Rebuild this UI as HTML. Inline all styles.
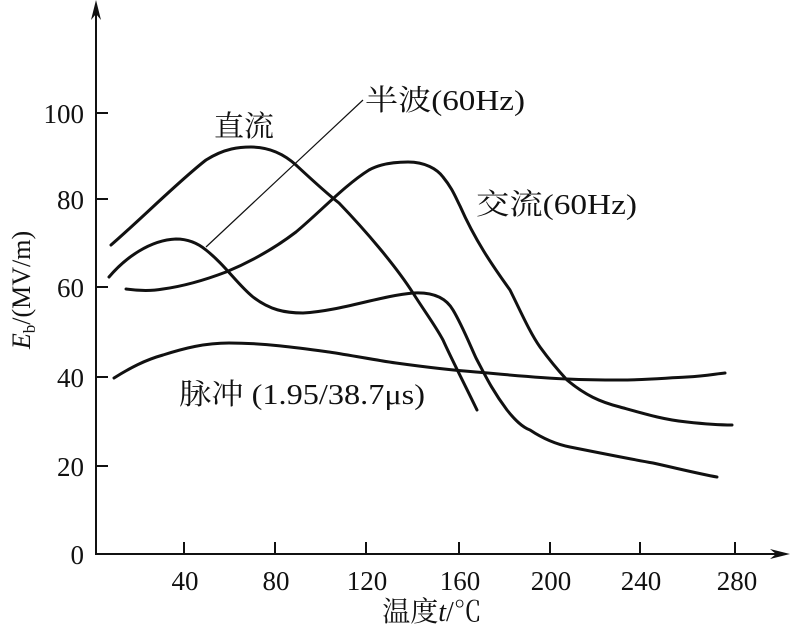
<!DOCTYPE html>
<html><head><meta charset="utf-8"><style>
html,body{margin:0;padding:0;background:#fff;}
svg{display:block;}
text{font-family:"Liberation Serif","Noto Serif CJK SC","Noto Sans CJK SC",serif;fill:#111;}
</style></head><body>
<svg width="791" height="628" viewBox="0 0 791 628" xmlns="http://www.w3.org/2000/svg">
<g stroke="#111" fill="none" stroke-width="2">
<line x1="96" y1="4" x2="96" y2="555"/>
<line x1="95" y1="554" x2="782" y2="554"/>
</g>
<polygon points="96,0 91,20 96,14 101,20" fill="#111"/>
<polygon points="790,554 770,549 776,554 770,559" fill="#111"/>
<g stroke="#111" stroke-width="2">
<line x1="96" y1="113" x2="108" y2="113"/>
<line x1="96" y1="199" x2="108" y2="199"/>
<line x1="96" y1="287" x2="108" y2="287"/>
<line x1="96" y1="377" x2="108" y2="377"/>
<line x1="96" y1="466" x2="108" y2="466"/>
<line x1="184" y1="554" x2="184" y2="542"/>
<line x1="275" y1="554" x2="275" y2="542"/>
<line x1="366" y1="554" x2="366" y2="542"/>
<line x1="459" y1="554" x2="459" y2="542"/>
<line x1="550" y1="554" x2="550" y2="542"/>
<line x1="640" y1="554" x2="640" y2="542"/>
<line x1="735" y1="554" x2="735" y2="542"/>
</g>
<g font-size="27" text-anchor="end">
<text x="84" y="123">100</text><text x="84" y="209">80</text><text x="84" y="297">60</text>
<text x="84" y="387">40</text><text x="84" y="476">20</text><text x="84" y="564">0</text>
</g>
<g font-size="27" text-anchor="middle">
<text x="185" y="590">40</text><text x="276" y="590">80</text><text x="367" y="590">120</text>
<text x="460" y="590">160</text><text x="551" y="590">200</text><text x="641" y="590">240</text><text x="737" y="590">280</text>
</g>
<text x="432" y="621" font-size="28" text-anchor="middle">温度<tspan font-style="italic">t</tspan>/℃</text>
<text transform="translate(30,290) rotate(-90)" font-size="26" text-anchor="middle"><tspan font-style="italic">E</tspan><tspan font-size="17" dy="5">b</tspan><tspan dy="-5">/(MV/m)</tspan></text>
<g stroke="#111" fill="none" stroke-width="3" stroke-linecap="round" stroke-linejoin="round">
<path d="M111,245 C140,220 180,180 206,160 C225,148 240,147 251,147 C270,147 285,155 296,165 C310,178 325,192 339,203 C365,230 395,265 413,293 C425,312 435,325 443,340 C452,360 465,385 477,410"/>
<path d="M109,277 C125,258 150,240 176,239 C190,239 200,245 206,250 C225,265 238,285 253,297 C270,310 285,313 303,313 C340,311 380,296 413,293 C430,292 445,296 453,310 C462,325 470,345 476,358 C485,375 492,390 507,410 C515,420 522,427 530,430 C545,440 560,445 570,447 C600,453 630,459 653,463 C680,469 700,474 717,477"/>
<path d="M126,289 C140,291 152,291 163,289 C185,286 205,280 226,272 C250,262 275,248 296,232 C320,212 345,185 369,170 C380,164 395,162 408,162 C425,162 437,169 443,177 C452,188 455,196 460,206 C475,240 492,265 510,290 C520,310 530,333 540,347 C548,358 555,367 567,380 C585,395 600,402 620,407 C645,414 665,420 687,422 C705,424 720,425 732,425"/>
<path d="M114,378 C130,368 145,360 163,355 C185,348 205,343 229,343 C265,343 300,348 329,352 C355,356 375,360 396,363 C425,367 450,370 476,372 C510,375 540,378 567,379 C590,380 605,380 620,380 C645,380 665,378 687,377 C705,376 715,374 725,373"/>
</g>
<line x1="206" y1="247" x2="363" y2="100" stroke="#111" stroke-width="1.2"/>
<g font-size="29">
<text x="214" y="136" textLength="60" lengthAdjust="spacingAndGlyphs">直流</text>
<text x="365" y="110" textLength="160" lengthAdjust="spacingAndGlyphs">半波(60Hz)</text>
<text x="476" y="214" textLength="161" lengthAdjust="spacingAndGlyphs">交流(60Hz)</text>
<text x="179" y="404" textLength="246" lengthAdjust="spacingAndGlyphs">脉冲 (1.95/38.7μs)</text>
</g>
</svg>
</body></html>
